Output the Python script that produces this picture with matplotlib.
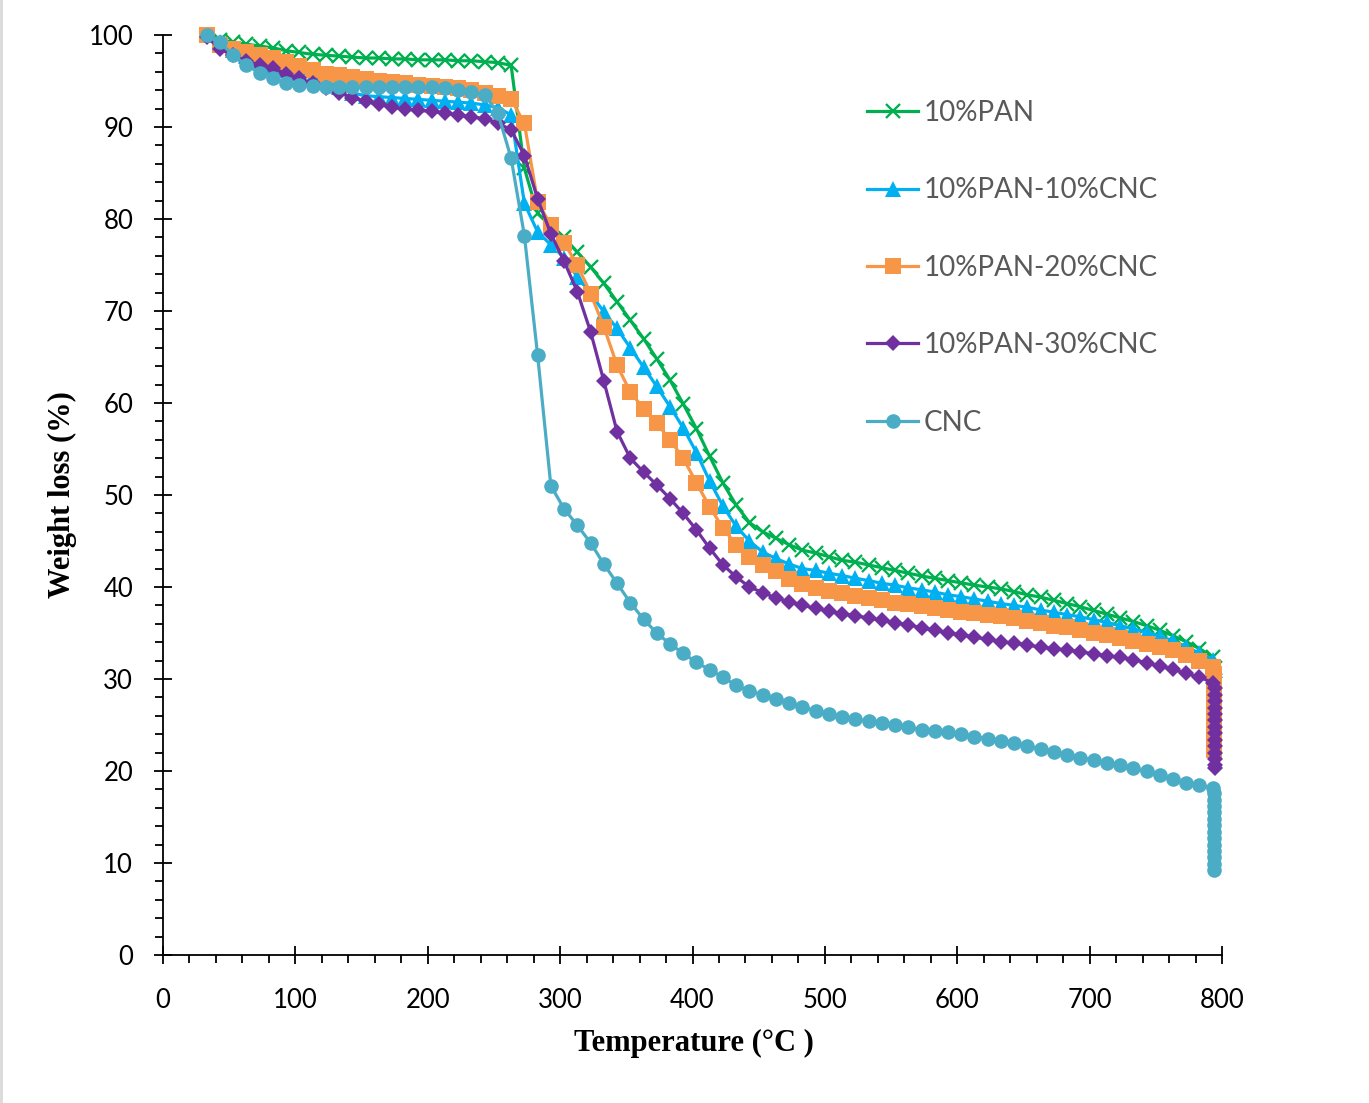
import matplotlib.pyplot as plt
from matplotlib.ticker import MultipleLocator
from matplotlib.lines import Line2D

# Temperature grid (°C), one marker every 10 °C
temps = [33, 43, 53, 63, 73, 83, 93, 103, 113, 123, 133, 143, 153, 163, 173,
         183, 193, 203, 213, 223, 233, 243, 253, 263, 273, 283, 293, 303, 313,
         323, 333, 343, 353, 363, 373, 383, 393, 403, 413, 423, 433, 443, 453,
         463, 473, 483, 493, 503, 513, 523, 533, 543, 553, 563, 573, 583, 593,
         603, 613, 623, 633, 643, 653, 663, 673, 683, 693, 703, 713, 723, 733,
         743, 753, 763, 773, 783, 793]

pan10 = [100.0, 99.5, 99.2, 99.0, 98.8, 98.6, 98.3, 98.1, 97.9, 97.8, 97.7, 97.6,
         97.5, 97.5, 97.4, 97.4, 97.3, 97.3, 97.3, 97.2, 97.2, 97.1, 97.0, 96.7,
         85.5, 80.6, 79.2, 78.0, 76.4, 74.8, 73.0, 71.0, 69.0, 67.0, 64.8, 62.5,
         59.9, 57.2, 54.2, 51.3, 48.9, 47.0, 46.0, 45.3, 44.6,
         44.0, 43.7, 43.3, 42.9, 42.7, 42.4, 42.1, 41.8, 41.5, 41.2, 40.95, 40.7,
         40.45, 40.2, 40.0,
         39.8, 39.5, 39.15, 38.9, 38.55, 38.2, 37.85, 37.45, 37.05, 36.65, 36.25,
         35.8, 35.3, 34.7, 34.05, 33.3, 32.4]

pan10_cnc10 = [100.0, 99.2, 98.4, 97.7, 97.1, 96.6, 96.2, 95.9, 95.5, 95.0, 94.3,
               93.7, 93.4, 93.3, 93.2, 93.1, 93.0, 92.9, 92.8, 92.7, 92.6, 92.4,
               92.1, 91.3,
               81.7, 78.6, 77.2, 75.8, 73.7, 71.9, 69.9, 68.1, 66.0, 63.9, 61.8,
               59.6, 57.3, 54.6, 51.5, 48.8, 46.6, 45.0, 43.8, 43.1, 42.5,
               42.0, 41.8, 41.5, 41.25, 40.95, 40.7, 40.4, 40.2, 39.9, 39.7, 39.45,
               39.15, 38.95, 38.7, 38.45,
               38.2, 38.0, 37.8, 37.5, 37.25, 37.0, 36.75, 36.45, 36.15, 35.8,
               35.45, 35.1, 34.65, 34.15, 33.5, 32.8, 32.1]

pan10_cnc20 = [100.0, 98.9, 98.5, 98.2, 97.8, 97.5, 97.1, 96.6, 96.2, 95.8, 95.6,
               95.4, 95.2, 95.0, 94.9, 94.75, 94.6, 94.5, 94.35, 94.2, 94.0, 93.7,
               93.4, 93.0,
               90.4, 81.9, 79.3, 77.4, 75.0, 71.9, 68.3, 64.1, 61.2, 59.4, 57.8,
               56.0, 54.0, 51.3, 48.7, 46.4, 44.6, 43.3, 42.4, 41.7, 40.9,
               40.3, 39.9, 39.6, 39.3, 39.0, 38.8, 38.55, 38.3, 38.1, 37.9, 37.7,
               37.5, 37.3, 37.15, 37.0,
               36.8, 36.6, 36.3, 36.1, 35.8, 35.6, 35.3, 35.0, 34.75, 34.45, 34.1,
               33.8, 33.45, 33.1, 32.6, 32.0, 31.3]

pan10_cnc30 = [99.8, 98.5, 97.8, 97.2, 96.7, 96.4, 95.8, 95.3, 94.75, 94.2, 93.7,
               93.2, 92.8, 92.5, 92.15, 91.95, 91.8, 91.7, 91.5, 91.3, 91.1, 90.9,
               90.4, 89.7,
               86.9, 82.2, 78.4, 75.4, 72.1, 67.75, 62.4, 56.9, 54.0, 52.5, 51.1,
               49.6, 48.0, 46.2, 44.2, 42.4, 41.1, 40.0, 39.4, 38.8, 38.4,
               38.0, 37.7, 37.35, 37.1, 36.9, 36.6, 36.4, 36.1, 35.9, 35.55, 35.3,
               35.0, 34.8, 34.55, 34.3,
               34.05, 33.9, 33.7, 33.45, 33.3, 33.15, 32.95, 32.75, 32.5, 32.35,
               32.1, 31.75, 31.4, 31.05, 30.6, 30.2, 29.6]

cnc = [100.0, 99.2, 97.8, 96.7, 95.9, 95.3, 94.8, 94.6, 94.5, 94.4, 94.3, 94.3,
       94.3, 94.3, 94.3, 94.3, 94.3, 94.3, 94.2, 94.0, 93.8, 93.5, 91.5, 86.6,
       78.2, 65.2, 51.0, 48.5, 46.7, 44.8, 42.5, 40.4, 38.3, 36.5, 35.0, 33.8,
       32.8, 31.8, 31.0, 30.2, 29.3, 28.7, 28.3, 27.8, 27.4,
       26.95, 26.55, 26.2, 25.9, 25.6, 25.4, 25.2, 25.0, 24.75, 24.5, 24.35,
       24.2, 24.0, 23.75, 23.5,
       23.3, 23.0, 22.7, 22.4, 22.1, 21.75, 21.45, 21.2, 20.9, 20.65, 20.3,
       19.95, 19.6, 19.1, 18.7, 18.5, 18.1]

# isothermal hold at the end of the run (vertical drops)
pan10_end_t = [795]
pan10_end_w = [31.2]
cnc10_end_t = [795]
cnc10_end_w = [31.0]
cnc20_end_t = [794] * 13
cnc20_end_w = [30.5, 29.8, 29.1, 28.4, 27.7, 27.0, 26.3, 25.6, 24.9, 24.2, 23.5,
               22.8, 22.3]
cnc30_end_t = [795] * 14
cnc30_end_w = [29.0, 28.3, 27.6, 26.9, 26.2, 25.5, 24.8, 24.1, 23.4, 22.7, 22.0,
               21.3, 20.6, 20.3]
cnc_end_t = [794] * 13
cnc_end_w = [17.6, 16.9, 16.2, 15.5, 14.8, 14.1, 13.4, 12.7, 12.0, 11.3, 10.6,
             9.9, 9.2]

labels = ['10%PAN', '10%PAN-10%CNC', '10%PAN-20%CNC', '10%PAN-30%CNC', 'CNC']
colors = ['#00B050', '#00B0F0', '#F79646', '#7030A0', '#4BACC6']

series = [
    (pan10 + pan10_end_w, temps + pan10_end_t, 'x', 10),
    (pan10_cnc10 + cnc10_end_w, temps + cnc10_end_t, '^', 11),
    (pan10_cnc20 + cnc20_end_w, temps + cnc20_end_t, 's', 11),
    (pan10_cnc30 + cnc30_end_w, temps + cnc30_end_t, 'D', 7.8),
    (cnc + cnc_end_w, temps + cnc_end_t, 'o', 10.5),
]

W, H = 1369, 1103
fig = plt.figure(figsize=(W / 100, H / 100), dpi=100)
ax = fig.add_axes([163 / W, 1 - 955 / H, (1222 - 163) / W, (955 - 35) / H])

for i, (w, t, m, ms) in enumerate(series):
    if m == 'x':
        ax.plot(t, w, color=colors[i], marker=m, ms=ms, mew=1.7, lw=2.3,
                label=labels[i], zorder=3 + i, clip_on=False)
    else:
        ax.plot(t, w, color=colors[i], marker=m, ms=ms, mew=0, lw=2.3,
                label=labels[i], zorder=3 + i, clip_on=False)

ax.set_xlim(0, 800)
ax.set_ylim(0, 100)
ax.xaxis.set_major_locator(MultipleLocator(100))
ax.xaxis.set_minor_locator(MultipleLocator(20))
ax.yaxis.set_major_locator(MultipleLocator(10))
ax.yaxis.set_minor_locator(MultipleLocator(2))

for s in ['top', 'right']:
    ax.spines[s].set_visible(False)
for s in ['left', 'bottom']:
    ax.spines[s].set_linewidth(1.3)
    ax.spines[s].set_color('black')

ax.tick_params(which='major', direction='inout', length=13, width=1.3,
               labelsize=18.5, pad=15, colors='black')
ax.tick_params(axis='x', which='major', pad=17)
ax.tick_params(which='minor', direction='out', length=5.5, width=1.3)
for lab in ax.get_xticklabels() + ax.get_yticklabels():
    lab.set_fontfamily('Lato')

leg = ax.legend(loc='upper left', bbox_to_anchor=(867 / W, 1 - 100 / H),
                bbox_transform=fig.transFigure, frameon=False, borderpad=0,
                borderaxespad=0, handlelength=1.85, handletextpad=0.2,
                labelspacing=1.85, prop={'family': 'Lato', 'size': 20})
for txt in leg.get_texts():
    txt.set_color('#595959')

fig.text(694 / W, 1 - 1043 / H, 'Temperature (°C )', ha='center', va='center',
         family='Liberation Serif', weight='bold', fontsize=22)
fig.text(62 / W, 1 - 495 / H, 'Weight loss (%)', ha='center', va='center',
         rotation=90, family='Liberation Serif', weight='bold', fontsize=22)

# thin grey frame edge on the left side of the picture
fig.add_artist(Line2D([1 / W, 1 / W], [0, 1], transform=fig.transFigure,
                      color='#D9D9D9', lw=2))

fig.savefig('out.png', dpi=100)
